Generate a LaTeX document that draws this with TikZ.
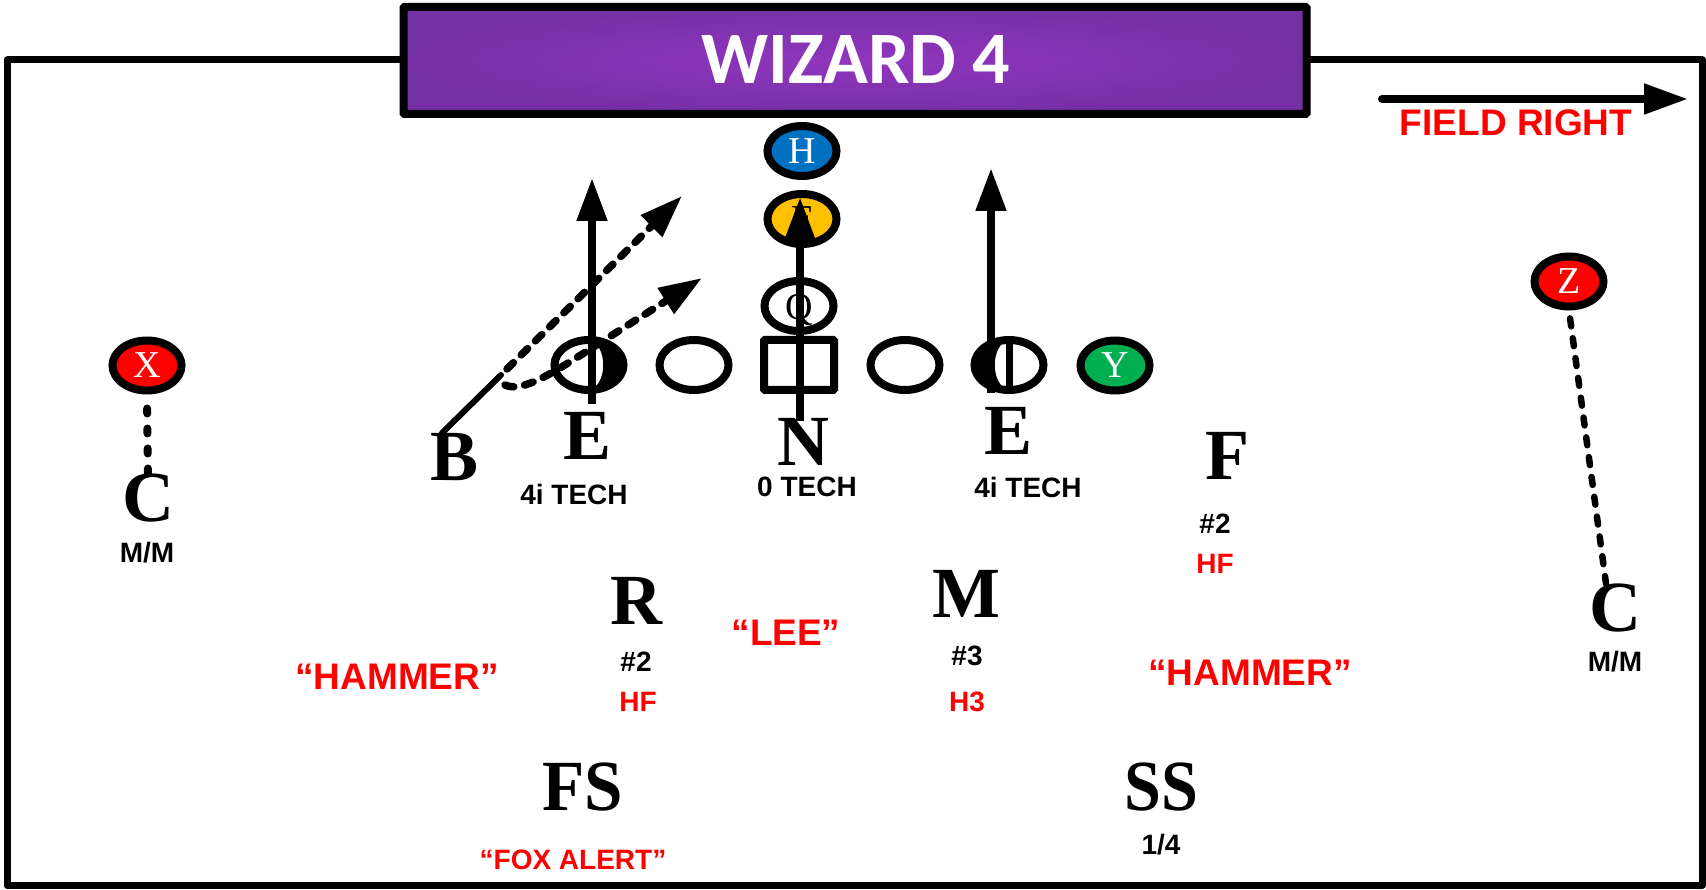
\documentclass[tikz,border=0pt]{standalone}
\usepackage{fontspec}
\setmainfont{Liberation Serif}
\newfontfamily\arialf{Liberation Sans}
\newfontfamily\calibf{Carlito}
\usetikzlibrary{shapes.geometric,arrows.meta}
\definecolor{hblue}{HTML}{0070C0}
\definecolor{fgold}{HTML}{FFC000}
\definecolor{ygreen}{HTML}{00B050}
\definecolor{ared}{HTML}{FF0000}
\definecolor{purpleout}{HTML}{7630A6}
\definecolor{purplein}{HTML}{9036BE}
\tikzset{
  frameline/.style={line width=7pt,line join=round},
  player/.style={draw=black,line width=8pt,ellipse,minimum width=69pt,minimum height=50pt,inner sep=0pt,font=\fontsize{38}{38}\selectfont},
  centerbox/.style={draw=black,line width=8pt,rounded corners=1pt,minimum width=70pt,minimum height=50pt,inner sep=0pt},
  defletter/.style={inner sep=0pt,font=\fontsize{72}{72}\selectfont\bfseries},
  smalllabel/.style={inner sep=0pt,font=\arialf\fontsize{28}{28}\selectfont\bfseries},
  redsmall/.style={smalllabel,text=ared},
  redbig/.style={inner sep=0pt,text=ared,font=\arialf\fontsize{37}{37}\selectfont\bfseries},
  rushline/.style={line width=8pt,-{Triangle[length=43pt,width=29pt]}},
  dashroute/.style={line width=7.5pt,line cap=round,dash pattern=on 9pt off 11pt,-{Triangle[length=43pt,width=29pt]}},
  covline/.style={line cap=round},
}
\begin{document}
\begin{tikzpicture}[x=1pt,y=-1pt]
\useasboundingbox (0,0) rectangle (1706,890);
% field frame
\draw[frameline] (7,60) rectangle (1702,885.5);
% title
\node[draw=black,line width=8pt,rounded corners=1pt,shading=radial,inner color=purplein,outer color=purpleout,minimum width=903pt,minimum height=107pt,inner sep=0pt] (title) at (855,60.5) {};
\node[inner sep=0pt,text=white,font=\calibf\fontsize{74}{74}\selectfont\bfseries] (titletext) at (856,59) {WIZARD 4};
% field right
\coordinate (frA) at (1382,99);
\coordinate (frB) at (1688,99);
\draw[line width=8pt,line cap=round,-{Triangle[length=44pt,width=29pt]}] (frA) -- (frB);
\node[redbig] (fieldright) at (1516,123) {FIELD RIGHT};
% offence
\node[player,fill=hblue,text=white] (H) at (802,151) {H};
\node[player,fill=fgold] (F) at (802,219) {F};
\node[player,text height=27pt,text depth=0pt] (Q) at (799,306) {Q};
\node[centerbox] (OC) at (799,365) {};
\node[player] (LG) at (694,365) {};
\node[player] (RG) at (905,365) {};
\node[player] (LT) at (589,365) {};
\node[player] (RT) at (1009,365) {};
\node[player,fill=ygreen,text=white] (Y) at (1115,365.5) {Y};
\node[player,fill=ared,text=white] (X) at (147,365.5) {X};
\node[player,fill=ared,text=white] (Z) at (1569,281.5) {Z};
% shaded shoulders
\fill (589,339.5) .. controls (608,339.5) and (624,351) .. (624,365)
      .. controls (624,379) and (608,390.5) .. (589,390.5)
      .. controls (608,385) and (608,345) .. (589,339.5) -- cycle;
\fill (1009,339.5) .. controls (990,339.5) and (974,351) .. (974,365)
      .. controls (974,379) and (990,390.5) .. (1009,390.5)
      .. controls (990,385) and (990,345) .. (1009,339.5) -- cycle;
\draw[line width=7pt] (RT.north) -- (RT.south);
% defence letters
\node[defletter] (B) at (455,457) {B};
\node[defletter] (EL) at (588,436) {E};
\node[defletter] (N) at (803,442) {N};
\node[defletter] (ER) at (1009,431) {E};
\node[defletter] (FD) at (1227,456) {F};
\node[defletter] (CL) at (148,498) {C};
\node[defletter] (RD) at (636,601) {R};
\node[defletter] (MD) at (966,594) {M};
\node[defletter,xscale=.96,transform shape] (FSD) at (583,787) {FS};
\node[defletter,xscale=.92,transform shape] (SSD) at (1161,787) {SS};
\node[defletter] (CR) at (1615,608) {C};
% small labels
\node[smalllabel] (t1) at (574,494) {4i TECH};
\node[smalllabel] (t2) at (807,487) {0 TECH};
\node[smalllabel] (t3) at (1028,487) {4i TECH};
\node[smalllabel] (f2) at (1215,524) {\#2};
\node[redsmall] (f3) at (1215,564) {HF};
\node[smalllabel] (cl) at (147,553) {M/M};
\node[smalllabel] (r2) at (636,662) {\#2};
\node[redsmall] (r3) at (638,702) {HF};
\node[smalllabel] (m2) at (967,656) {\#3};
\node[redsmall] (m3) at (967,702) {H3};
\node[smalllabel] (ss) at (1161,845) {1/4};
\node[smalllabel] (cr) at (1615,662) {M/M};
\node[redbig] (ham1) at (397,677) {“HAMMER”};
\node[redbig] (lee) at (786,633) {“LEE”};
\node[redbig] (ham2) at (1250,673) {“HAMMER”};
\node[redsmall] (fox) at (573,860) {“FOX ALERT”};
% routes
\coordinate (elS) at (592,404);
\coordinate (elT) at (592,178);
\coordinate (nS) at (800,421);
\coordinate (nT) at (800,197);
\coordinate (erS) at (991,393);
\coordinate (erT) at (991,168);
\draw[rushline] (elS) -- (elT);
\draw[rushline] (nS) -- (nT);
\draw[rushline] (erS) -- (erT);
\coordinate (bJ) at (501,375);
\coordinate (bS) at (442,433);
\coordinate (b1T) at (682,196);
\coordinate (b2S) at (505,385);
\coordinate (b2M) at (584,353);
\coordinate (b2T) at (702,278);
\draw[line width=6pt,line cap=round] (bS) -- (bJ);
\draw[dashroute] ([shift={(6,-6)}]bJ) -- (b1T);
\draw[dashroute] (b2S) .. controls (520,392) and (545,378) .. (b2M) -- (b2T);
\draw[covline,line width=8pt,dash pattern=on 5pt off 15pt,shorten >=-3pt,shorten <=14pt] (X.south) -- (CL.north);
\draw[covline,line width=6.5pt,dash pattern=on 8pt off 12pt,shorten <=8pt] (Z.south) -- ([xshift=-9pt]CR.north);
\end{tikzpicture}
\end{document}
